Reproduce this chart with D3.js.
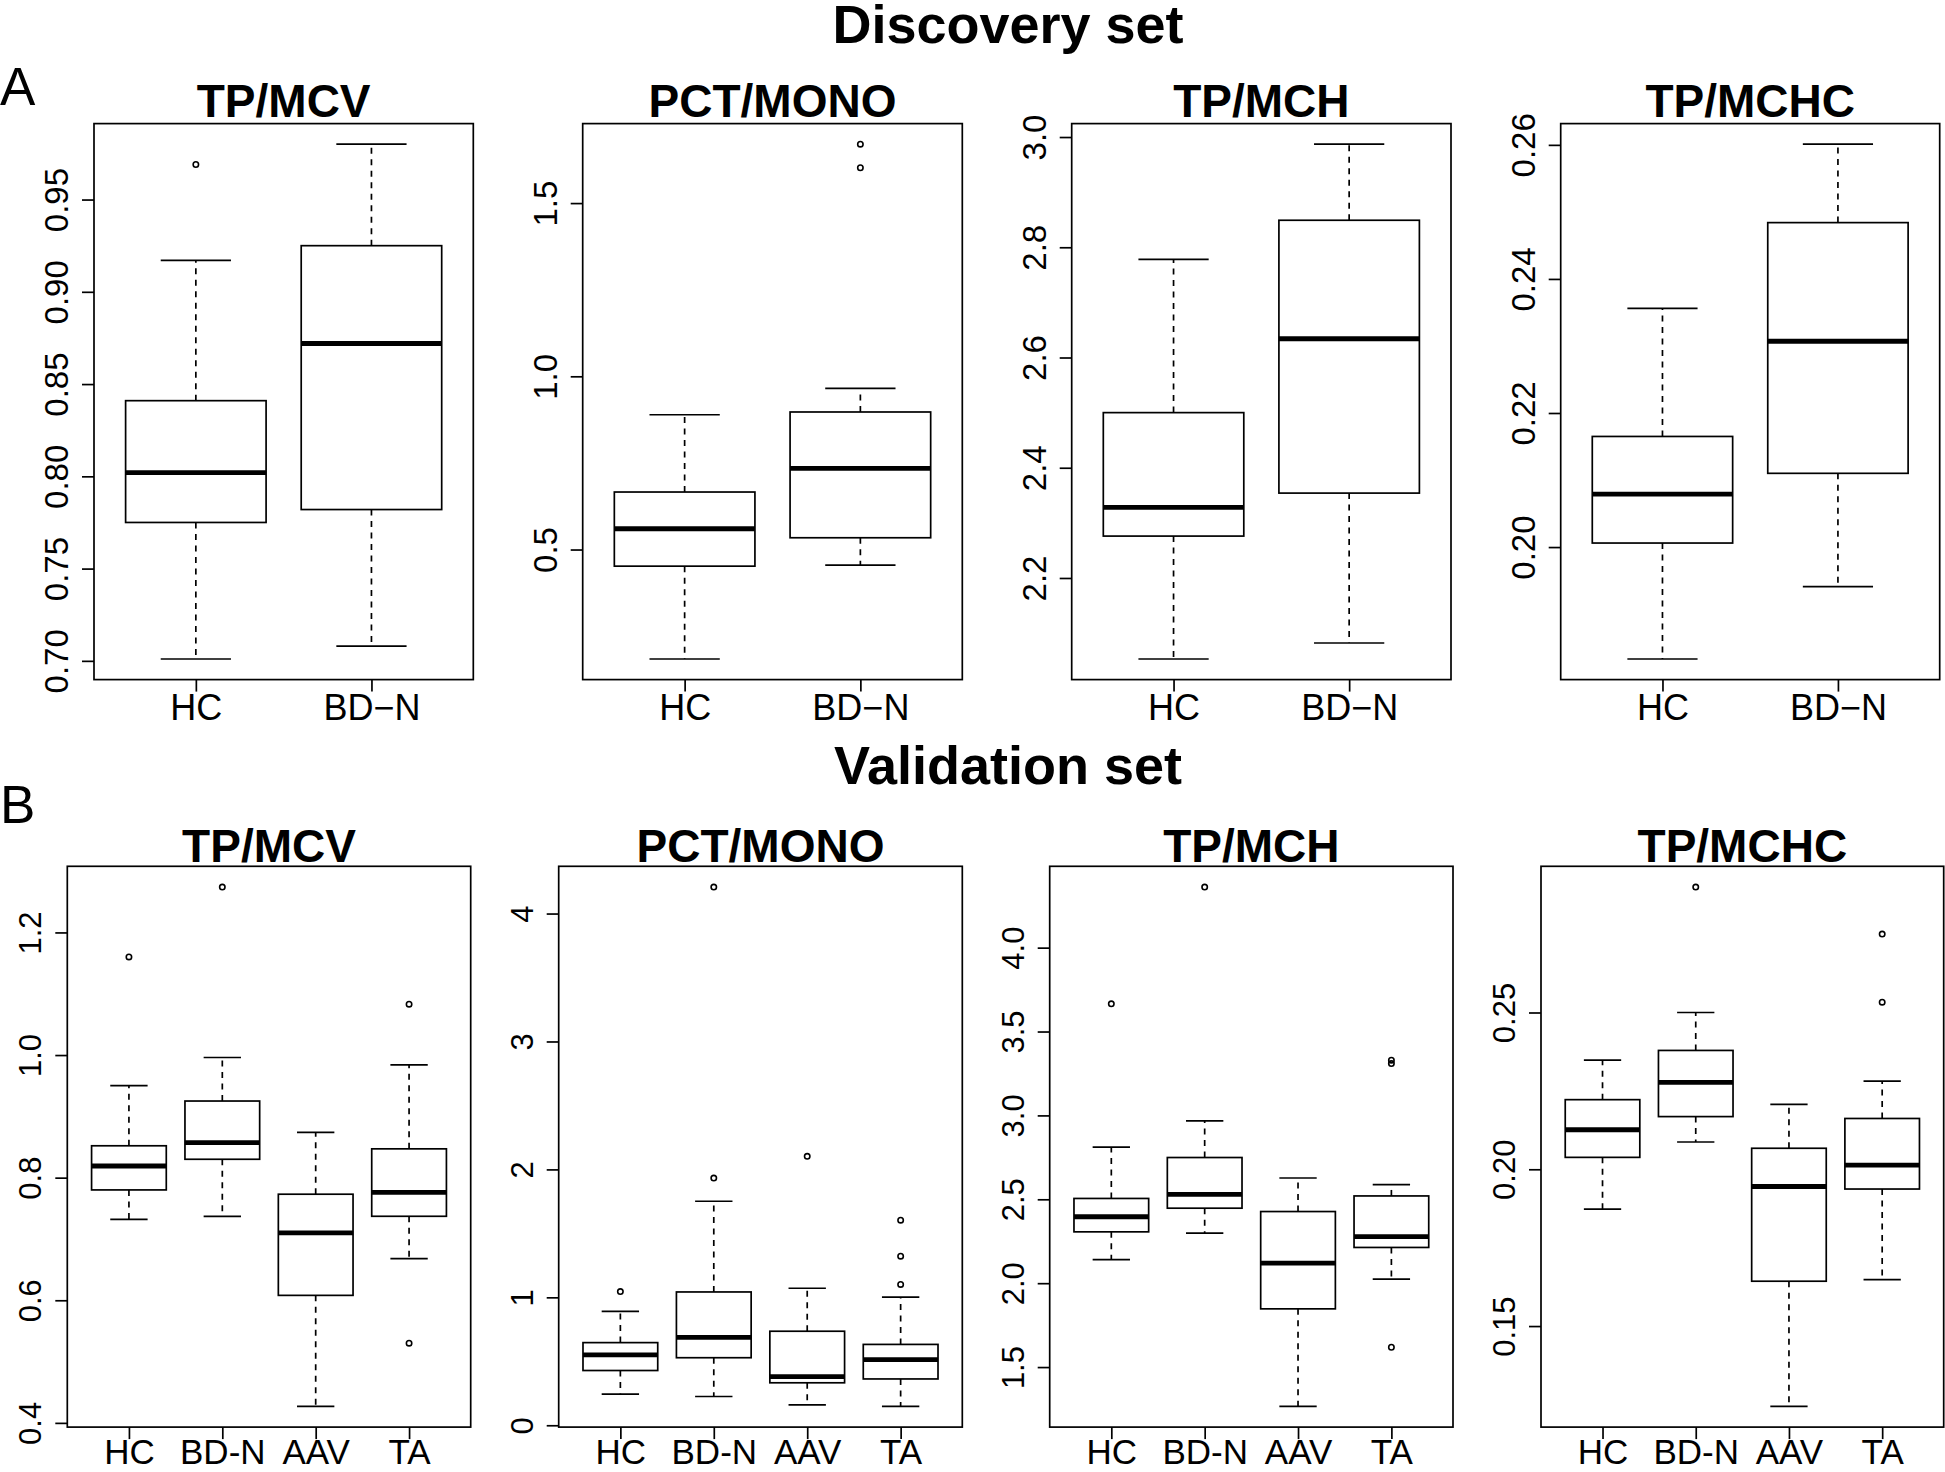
<!DOCTYPE html>
<html>
<head>
<meta charset="utf-8">
<script src="https://cdn.jsdelivr.net/npm/d3@7"></script>
<style>
  html, body { margin: 0; padding: 0; background: #fff; }
  svg text { font-family: "Liberation Sans", Arial, Helvetica, sans-serif; fill: #000; }
</style>
</head>
<body>
<svg id="chart" width="1945" height="1472"></svg>
<script>
// ---------------- DATA ----------------
const discoveryGroups = ["HC", "BD\u2212N"];
const validationGroups = ["HC", "BD-N", "AAV", "TA"];
const markerNames = ["TP/MCV", "PCT/MONO", "TP/MCH", "TP/MCHC"];
const sectionTitles = ["Discovery set", "Validation set"];
const panelLetters = ["A", "B"];

// Five-number summaries per group: [lower whisker, Q1, median, Q3, upper whisker]
const discTPMCV     = [[0.701, 0.775, 0.802, 0.841, 0.917], [0.708, 0.782, 0.872, 0.925, 0.980]];
const discTPMCVOut  = [[0.969], []];
const discPCTMONO    = [[0.184, 0.452, 0.560, 0.666, 0.889], [0.455, 0.534, 0.734, 0.897, 0.965]];
const discPCTMONOOut = [[], [1.602, 1.670]];
const discTPMCH     = [[2.053, 2.276, 2.328, 2.500, 2.778], [2.082, 2.354, 2.634, 2.849, 2.987]];
const discTPMCHOut  = [[], []];
const discTPMCHC    = [[0.1833, 0.2006, 0.2079, 0.2165, 0.2356], [0.1941, 0.2110, 0.2307, 0.2484, 0.2601]];
const discTPMCHCOut = [[], []];

const valTPMCV     = [[0.732, 0.780, 0.819, 0.852, 0.950], [0.737, 0.830, 0.857, 0.925, 0.996],
                      [0.427, 0.608, 0.710, 0.773, 0.874], [0.668, 0.737, 0.776, 0.847, 0.984]];
const valTPMCVOut  = [[1.160], [1.274], [], [1.083, 0.530]];
const valPCTMONO    = [[0.244, 0.428, 0.550, 0.646, 0.890], [0.225, 0.528, 0.687, 1.042, 1.751],
                       [0.159, 0.332, 0.380, 0.735, 1.071], [0.148, 0.362, 0.513, 0.632, 1.001]];
const valPCTMONOOut = [[1.045], [1.932, 4.207], [2.102], [1.101, 1.322, 1.603]];
const valTPMCH     = [[2.140, 2.306, 2.396, 2.505, 2.811], [2.298, 2.447, 2.529, 2.749, 2.968],
                      [1.266, 1.847, 2.120, 2.427, 2.627], [2.024, 2.213, 2.278, 2.520, 2.588]];
const valTPMCHOut  = [[3.665], [4.361], [], [3.309, 3.329, 1.618]];
const valTPMCHC    = [[0.1873, 0.2038, 0.2126, 0.2222, 0.2348], [0.2087, 0.2168, 0.2277, 0.2379, 0.2500],
                      [0.1244, 0.1643, 0.1945, 0.2067, 0.2207], [0.1648, 0.1937, 0.2013, 0.2162, 0.2281]];
const valTPMCHCOut = [[], [0.2900], [], [0.2533, 0.2750]];

// Y-axis ticks and labels
const ticksA1 = [0.70, 0.75, 0.80, 0.85, 0.90, 0.95];
const labelsA1 = ["0.70", "0.75", "0.80", "0.85", "0.90", "0.95"];
const ticksA2 = [0.5, 1.0, 1.5];
const labelsA2 = ["0.5", "1.0", "1.5"];
const ticksA3 = [2.2, 2.4, 2.6, 2.8, 3.0];
const labelsA3 = ["2.2", "2.4", "2.6", "2.8", "3.0"];
const ticksA4 = [0.20, 0.22, 0.24, 0.26];
const labelsA4 = ["0.20", "0.22", "0.24", "0.26"];
const ticksB1 = [0.4, 0.6, 0.8, 1.0, 1.2];
const labelsB1 = ["0.4", "0.6", "0.8", "1.0", "1.2"];
const ticksB2 = [0, 1, 2, 3, 4];
const labelsB2 = ["0", "1", "2", "3", "4"];
const ticksB3 = [1.5, 2.0, 2.5, 3.0, 3.5, 4.0];
const labelsB3 = ["1.5", "2.0", "2.5", "3.0", "3.5", "4.0"];
const ticksB4 = [0.15, 0.20, 0.25];
const labelsB4 = ["0.15", "0.20", "0.25"];

// ---------------- LAYOUT (positions / styles) ----------------
const rows = [
  { y0: 123.6, y1: 679.6, xs: [[94, 473.3], [582.7, 962.3], [1071.7, 1451], [1560.7, 1939.7]],
    titleY: 117, sectionY: 43, letterY: 105, xLabelY: 40, xFont: 36, yFont: 33 },
  { y0: 866.3, y1: 1427.1, xs: [[67.3, 470.7], [558.7, 962.3], [1049.7, 1453], [1541, 1943.7]],
    titleY: 862, sectionY: 784, letterY: 823, xLabelY: 36.5, xFont: 35, yFont: 31 }
];

const panels = [
  { row: 0, col: 0, groups: discoveryGroups, stats: discTPMCV, out: discTPMCVOut, ticks: ticksA1, labels: labelsA1 },
  { row: 0, col: 1, groups: discoveryGroups, stats: discPCTMONO, out: discPCTMONOOut, ticks: ticksA2, labels: labelsA2 },
  { row: 0, col: 2, groups: discoveryGroups, stats: discTPMCH, out: discTPMCHOut, ticks: ticksA3, labels: labelsA3 },
  { row: 0, col: 3, groups: discoveryGroups, stats: discTPMCHC, out: discTPMCHCOut, ticks: ticksA4, labels: labelsA4 },
  { row: 1, col: 0, groups: validationGroups, stats: valTPMCV, out: valTPMCVOut, ticks: ticksB1, labels: labelsB1 },
  { row: 1, col: 1, groups: validationGroups, stats: valPCTMONO, out: valPCTMONOOut, ticks: ticksB2, labels: labelsB2 },
  { row: 1, col: 2, groups: validationGroups, stats: valTPMCH, out: valTPMCHOut, ticks: ticksB3, labels: labelsB3 },
  { row: 1, col: 3, groups: validationGroups, stats: valTPMCHC, out: valTPMCHCOut, ticks: ticksB4, labels: labelsB4 }
];

const LW = 1.7;
const svg = d3.select("#chart");
svg.append("rect").attr("width", 1945).attr("height", 1472).attr("fill", "#fff");

function drawPanel(p) {
  const r = rows[p.row];
  const [x0, x1] = r.xs[p.col];
  const y0 = r.y0, y1 = r.y1;
  const g = svg.append("g");

  const all = p.stats.flat().concat(p.out.flat());
  const [mn, mx] = d3.extent(all);
  const pad = (mx - mn) * 0.04;
  const y = d3.scaleLinear().domain([mn - pad, mx + pad]).range([y1, y0]);
  const n = p.groups.length;
  const x = d3.scalePoint().domain(p.groups).range([x0, x1]).padding(0.5 + 0.04 * n);
  const bw = x.step() * 0.8;
  const cw = bw * 0.5;

  const data = p.groups.map((name, i) => ({ name, s: p.stats[i], o: p.out[i] }));
  const bx = g.selectAll("g.bx").data(data).join("g").attr("class", "bx");

  // whiskers (dashed), from box edges outward
  bx.append("line")
    .attr("x1", d => x(d.name)).attr("x2", d => x(d.name))
    .attr("y1", d => y(d.s[3])).attr("y2", d => y(d.s[4]))
    .attr("stroke", "#000").attr("stroke-width", LW).attr("stroke-dasharray", "6,5.5");
  bx.append("line")
    .attr("x1", d => x(d.name)).attr("x2", d => x(d.name))
    .attr("y1", d => y(d.s[1])).attr("y2", d => y(d.s[0]))
    .attr("stroke", "#000").attr("stroke-width", LW).attr("stroke-dasharray", "6,5.5");
  // caps
  [0, 4].forEach(k => {
    bx.append("line")
      .attr("x1", d => x(d.name) - cw / 2).attr("x2", d => x(d.name) + cw / 2)
      .attr("y1", d => y(d.s[k])).attr("y2", d => y(d.s[k]))
      .attr("stroke", "#000").attr("stroke-width", LW);
  });
  // boxes
  bx.append("rect")
    .attr("x", d => x(d.name) - bw / 2).attr("width", bw)
    .attr("y", d => y(d.s[3])).attr("height", d => y(d.s[1]) - y(d.s[3]))
    .attr("fill", "#fff").attr("stroke", "#000").attr("stroke-width", LW);
  // medians
  bx.append("line")
    .attr("x1", d => x(d.name) - bw / 2).attr("x2", d => x(d.name) + bw / 2)
    .attr("y1", d => y(d.s[2])).attr("y2", d => y(d.s[2]))
    .attr("stroke", "#000").attr("stroke-width", 4.8);
  // outliers
  bx.selectAll("circle").data(d => d.o.map(v => ({ name: d.name, v }))).join("circle")
    .attr("cx", d => x(d.name)).attr("cy", d => y(d.v)).attr("r", 2.7)
    .attr("fill", "none").attr("stroke", "#000").attr("stroke-width", 1.6);

  // frame
  g.append("rect").attr("x", x0).attr("y", y0).attr("width", x1 - x0).attr("height", y1 - y0)
    .attr("fill", "none").attr("stroke", "#000").attr("stroke-width", LW);

  // y axis
  const gy = g.append("g").attr("transform", `translate(${x0},0)`)
    .call(d3.axisLeft(y).tickValues(p.ticks).tickFormat((d, i) => p.labels[i]).tickSize(12));
  gy.attr("font-size", null).attr("font-family", null);
  gy.select(".domain").remove();
  gy.selectAll(".tick line").attr("stroke", "#000").attr("stroke-width", LW);
  gy.selectAll(".tick text")
    .attr("x", 0).attr("y", -26).attr("dy", null)
    .attr("text-anchor", "middle").attr("transform", "rotate(-90)")
    .style("font-size", r.yFont + "px");

  // x axis
  const gx = g.append("g").attr("transform", `translate(0,${y1})`)
    .call(d3.axisBottom(x).tickSize(12));
  gx.attr("font-size", null).attr("font-family", null);
  gx.select(".domain").remove();
  gx.selectAll(".tick line").attr("stroke", "#000").attr("stroke-width", LW);
  gx.selectAll(".tick text")
    .attr("y", r.xLabelY).attr("dy", null).attr("text-anchor", "middle")
    .style("font-size", r.xFont + "px");

  // panel title
  g.append("text").attr("x", (x0 + x1) / 2).attr("y", r.titleY)
    .attr("text-anchor", "middle").style("font-size", "46px").style("font-weight", "bold")
    .text(markerNames[p.col]);
}

panels.forEach(drawPanel);

// section titles and panel letters
rows.forEach((r, i) => {
  svg.append("text").attr("x", 1008).attr("y", r.sectionY)
    .attr("text-anchor", "middle").style("font-size", "54px").style("font-weight", "bold")
    .text(sectionTitles[i]);
  svg.append("text").attr("x", 0).attr("y", r.letterY)
    .style("font-size", "53px")
    .text(panelLetters[i]);
});
</script>
</body>
</html>
